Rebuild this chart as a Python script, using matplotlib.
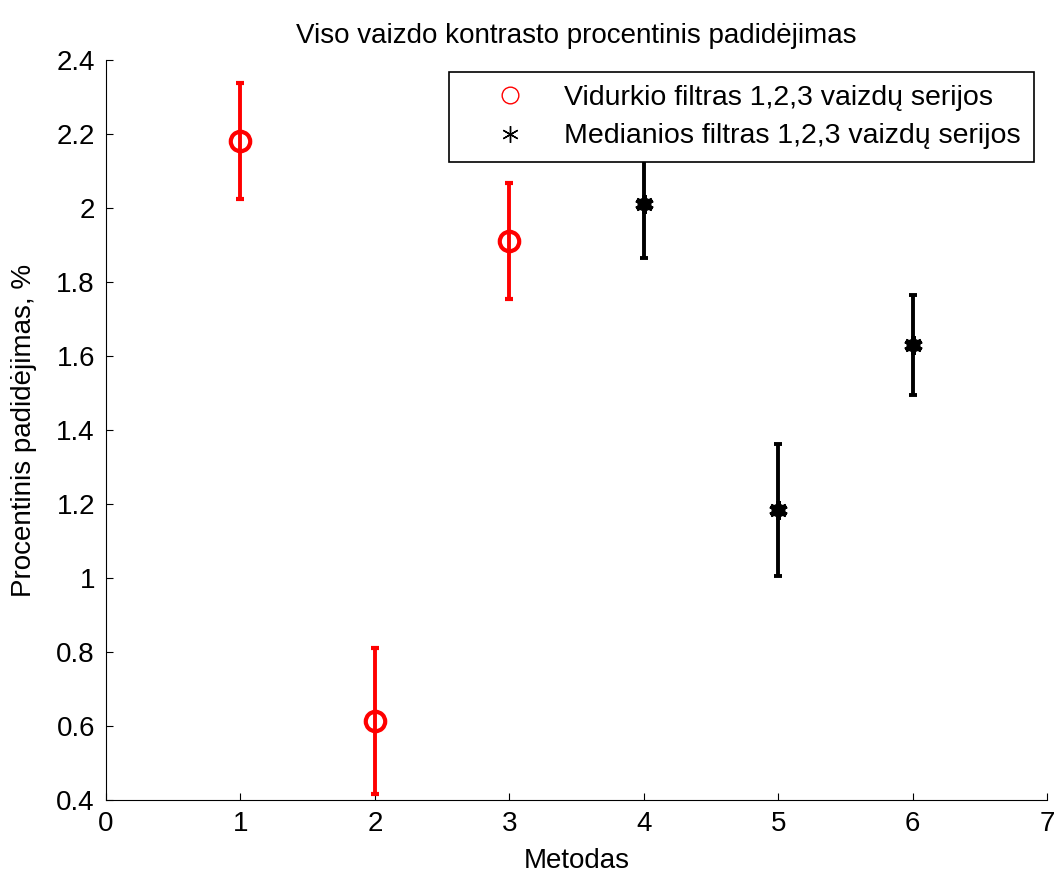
import numpy as np
from matplotlib import pyplot as plt
from matplotlib.lines import Line2D

plt.rcParams['font.family'] = ['Liberation Sans', 'DejaVu Sans']

# Vidurkio filtras (raudoni)
x_vid = [1, 2, 3]
y_vid = [2.181, 0.614, 1.911]
err_vid = [0.157, 0.197, 0.157]

# Medianos filtras (juodi)
x_med = [4, 5, 6]
y_med = [2.011, 1.184, 1.630]
err_med = [0.146, 0.179, 0.135]

labels = ["Vidurkio filtras 1,2,3 vaizdų serijos",
          "Medianios filtras 1,2,3 vaizdų serijos"]

asterisk = (6, 2, 0)

fig = plt.figure(figsize=(10.59, 8.75), dpi=100)
ax = fig.add_axes([0.1001, 0.0857, 0.8886, 0.8457])

ax.errorbar(x_vid, y_vid, yerr=err_vid, fmt='o', color='red', ecolor='red',
            elinewidth=2.8, capsize=3, capthick=2.8, markersize=14,
            markerfacecolor='none', markeredgewidth=3)
ax.errorbar(x_med, y_med, yerr=err_med, fmt='none', ecolor='black',
            elinewidth=2.8, capsize=3, capthick=2.8)
ax.plot(x_med, y_med, ls='none', marker=asterisk, color='black',
        markersize=13, markeredgewidth=3.5)
ax.plot(x_med, y_med, ls='none', marker='o', color='black', markersize=9)

ax.set_xlim(0, 7)
ax.set_ylim(0.4, 2.4)
ax.set_xticks(np.arange(0, 8, 1))
ax.set_yticks(np.arange(0.4, 2.41, 0.2))
ax.set_yticklabels(['0.4', '0.6', '0.8', '1', '1.2', '1.4', '1.6', '1.8', '2', '2.2', '2.4'])
ax.tick_params(direction='in', length=5, labelsize=20, pad=8)

ax.spines['top'].set_visible(False)
ax.spines['right'].set_visible(False)

ax.set_title("Viso vaizdo kontrasto procentinis padidėjimas", fontsize=20, pad=12)
ax.set_xlabel("Metodas", fontsize=20, labelpad=8)
ax.set_ylabel("Procentinis padidėjimas, %", fontsize=20, labelpad=14)

# Legenda
handles = [Line2D([], [], ls='none', marker='o', color='red', markerfacecolor='none',
                  markersize=12, markeredgewidth=1),
           Line2D([], [], ls='none', marker=asterisk, color='black', markersize=12,
                  markeredgewidth=1)]
leg = ax.legend(handles, labels, loc='upper right', bbox_to_anchor=(0.986, 0.984),
                fontsize=20.5, frameon=True, fancybox=False, edgecolor='black',
                framealpha=1, borderpad=0.45, handlelength=3.4, handletextpad=0.2,
                labelspacing=0.45, borderaxespad=0)
leg.get_frame().set_linewidth(1.2)
leg.set_zorder(5)

plt.savefig("out.png", dpi=100)
